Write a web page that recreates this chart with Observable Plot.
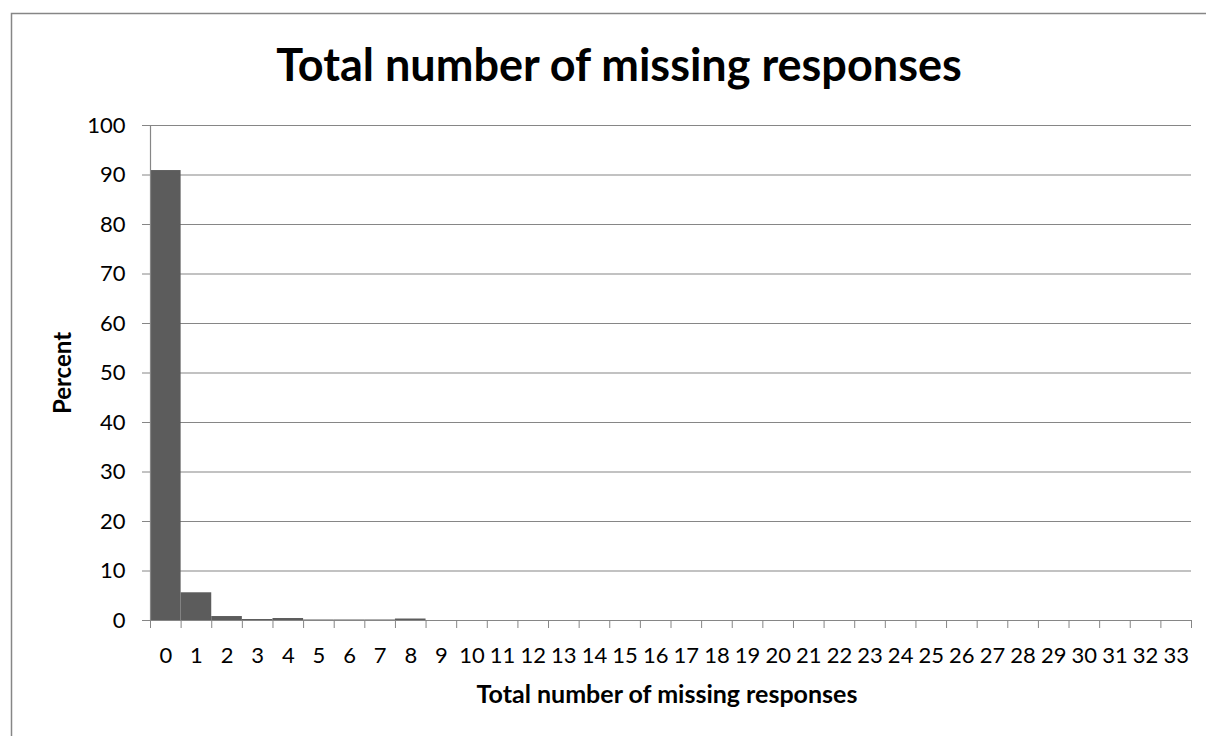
<!DOCTYPE html>
<html>
<head>
<meta charset="utf-8">
<script src="https://cdn.jsdelivr.net/npm/d3@7"></script>
<script src="https://cdn.jsdelivr.net/npm/@observablehq/plot@0.6"></script>
<style>
  html, body { margin: 0; padding: 0; background: #fff; }
</style>
</head>
<body>
<div id="chart"></div>
<script>
// Number of missing responses (category labels) and share of respondents (%)
const categories = ["0","1","2","3","4","5","6","7","8","9","10","11","12","13","14","15","16",
  "17","18","19","20","21","22","23","24","25","26","27","28","29","30","31","32","33"];
const percent = [90.9, 5.6, 0.8, 0.2, 0.4, 0.1, 0.1, 0.1, 0.3, 0, 0, 0, 0, 0, 0, 0, 0,
  0, 0, 0, 0, 0, 0, 0, 0, 0, 0, 0, 0, 0, 0, 0, 0, 0];
const yTicks = [0, 10, 20, 30, 40, 50, 60, 70, 80, 90, 100];

const chartTitle = "Total number of missing responses";
const xTitle = "Total number of missing responses";
const yTitle = "Percent";

const data = categories.map((c, i) => ({i, label: c, value: percent[i]}));
const centers = data.map(d => d.i);
const edges = [-0.5, ...centers.map(i => i + 0.5)];

const grey = "#868686";
const font = "Lato, 'Open Sans', sans-serif";

// Outer chart-area border
const border = () => {
  const r = document.createElementNS("http://www.w3.org/2000/svg", "rect");
  r.setAttribute("x", 11.5);
  r.setAttribute("y", 13.5);
  r.setAttribute("width", 1300);
  r.setAttribute("height", 800);
  r.setAttribute("fill", "none");
  r.setAttribute("stroke", grey);
  r.setAttribute("stroke-width", 1.5);
  return r;
};

const chart = Plot.plot({
  width: 1206,
  height: 736,
  marginLeft: 150,
  marginRight: 15,
  marginTop: 125,
  marginBottom: 116,
  style: {fontFamily: font, fontSize: "22px", color: "#000", background: "#fff"},
  x: {domain: [-0.5, 33.5]},
  y: {domain: [0, 100]},
  marks: [
    border,
    Plot.gridY(yTicks, {stroke: grey, strokeOpacity: 1, strokeWidth: 1.2}),
    Plot.rectY(data, {x1: d => d.i - 0.5, x2: d => d.i + 0.5, y: "value", fill: "#5c5c5c"}),
    Plot.ruleX([-0.5], {stroke: grey, strokeWidth: 1.2}),
    Plot.ruleY([0], {stroke: grey, strokeWidth: 1.2}),
    Plot.axisY({ticks: yTicks, tickSize: 8, tickPadding: 17, stroke: grey, strokeOpacity: 1, label: null, fontSize: 22}),
    Plot.axisX({ticks: edges, tickSize: 8, tickFormat: () => "", stroke: grey, strokeOpacity: 1, label: null}),
    Plot.axisX({ticks: centers, tickSize: 0, tickPadding: 27, tickFormat: i => categories[i], label: null, fontSize: 22}),
    Plot.text([chartTitle], {frameAnchor: "top", lineAnchor: "middle", dx: -52, dy: -59, text: d => d, fontSize: 45, fontWeight: "bold", fill: "#000"}),
    Plot.text([xTitle], {frameAnchor: "bottom", lineAnchor: "middle", textAnchor: "middle", dx: -4, dy: 74, text: d => d, fontSize: 25, fontWeight: "bold", fill: "#000"}),
    Plot.text([yTitle], {frameAnchor: "left", lineAnchor: "middle", textAnchor: "middle", dx: -87, dy: 0, rotate: -90, text: d => d, fontSize: 24, fontWeight: "bold", fill: "#000"})
  ]
});

document.getElementById("chart").appendChild(chart);
</script>
</body>
</html>
